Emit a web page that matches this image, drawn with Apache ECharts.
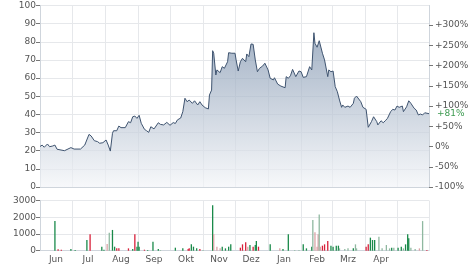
<!DOCTYPE html>
<html><head><meta charset="utf-8">
<script src="https://cdn.jsdelivr.net/npm/echarts@6/dist/echarts.min.js"></script>
<style>html,body{margin:0;padding:0;background:#fff}#c{width:474px;height:269px}</style>
</head><body><div id="c"></div>
<script>
// ---- data ----
const startDate = '2023-06-01';
const endDate = '2024-05-31';
const monthNames = ['Jan','Feb','Mrz','Apr','Mai','Jun','Jul','Aug','Sep','Okt','Nov','Dez'];
const hiddenMonthLabels = ['Mai'];
const basePrice = 22.3;
const priceTicks = [0,10,20,30,40,50,60,70,80,90,100];
const percentTicks = [-100,-50,0,50,100,150,200,250,300];
const volumeTicks = [0,1000,2000,3000];

const priceDates = [
'2023-06-01','2023-06-03','2023-06-05','2023-06-08','2023-06-10','2023-06-13','2023-06-15','2023-06-17','2023-06-24','2023-06-30',
'2023-07-03','2023-07-09','2023-07-13','2023-07-17','2023-07-19','2023-07-22','2023-07-25','2023-07-27','2023-07-30',
'2023-08-02','2023-08-04','2023-08-06','2023-08-08','2023-08-09','2023-08-12','2023-08-14','2023-08-16','2023-08-20','2023-08-23','2023-08-25','2023-08-27','2023-08-29','2023-08-31',
'2023-09-02','2023-09-04','2023-09-07','2023-09-09','2023-09-11','2023-09-13','2023-09-16','2023-09-20','2023-09-22','2023-09-25','2023-09-28',
'2023-10-01','2023-10-04','2023-10-06','2023-10-08','2023-10-11','2023-10-13','2023-10-15','2023-10-17','2023-10-19','2023-10-22','2023-10-24','2023-10-27','2023-10-29','2023-10-31',
'2023-11-03','2023-11-06','2023-11-07','2023-11-09','2023-11-10','2023-11-11','2023-11-13','2023-11-14','2023-11-17','2023-11-19','2023-11-21','2023-11-24','2023-11-25','2023-11-28',
'2023-12-01','2023-12-02','2023-12-04','2023-12-06','2023-12-08','2023-12-11','2023-12-12','2023-12-14','2023-12-16','2023-12-18','2023-12-20','2023-12-22','2023-12-24','2023-12-27','2023-12-29',
'2024-01-01','2024-01-03','2024-01-06','2024-01-07','2024-01-10','2024-01-13','2024-01-17','2024-01-18','2024-01-20','2024-01-22','2024-01-24','2024-01-27','2024-01-30',
'2024-02-01','2024-02-03','2024-02-06','2024-02-09','2024-02-11','2024-02-13','2024-02-14','2024-02-16','2024-02-18','2024-02-19','2024-02-21','2024-02-23','2024-02-26','2024-02-27','2024-02-29',
'2024-03-02','2024-03-04','2024-03-06','2024-03-08','2024-03-10','2024-03-11','2024-03-13','2024-03-16','2024-03-18','2024-03-21','2024-03-22','2024-03-24','2024-03-25','2024-03-28','2024-03-30',
'2024-04-02','2024-04-04','2024-04-07','2024-04-09','2024-04-12','2024-04-13','2024-04-16','2024-04-18','2024-04-20','2024-04-22','2024-04-25','2024-04-27','2024-04-29',
'2024-05-01','2024-05-03','2024-05-06','2024-05-07','2024-05-10','2024-05-12','2024-05-14','2024-05-17','2024-05-19','2024-05-21','2024-05-23','2024-05-25','2024-05-27','2024-05-31'
];
const priceValues = [
22.3,23.1,21.9,23.7,22.2,22.6,23.1,20.8,20.0,21.7,
20.9,20.9,23.1,29.0,28.1,25.5,25.0,24.1,24.4,
25.9,23.1,19.8,29.6,31.0,31.0,33.6,32.7,32.7,36.0,35.4,38.7,39.1,37.8,
39.5,35.1,31.8,31.0,30.1,33.2,32.0,35.4,34.5,34.2,35.6,
34.0,35.5,35.0,37.0,38.0,41.5,48.9,47.0,47.9,46.1,47.5,45.2,47.0,45.2,
43.7,43.0,50.7,53.4,75.1,73.7,61.7,64.5,63.0,66.3,65.4,69.0,74.0,73.7,
73.7,70.0,63.9,69.0,70.9,69.0,73.3,71.8,78.8,78.6,70.0,63.5,65.4,66.7,68.2,
64.5,59.9,59.0,60.2,56.7,55.6,54.7,60.8,59.9,61.3,64.8,60.8,63.9,
63.5,60.4,60.8,66.3,64.5,85.0,79.2,77.0,80.6,81.0,73.7,70.0,60.8,64.5,63.5,
63.9,55.3,52.5,47.9,43.9,45.2,43.9,44.6,43.9,46.1,48.9,50.1,50.7,47.0,43.9,
42.8,32.9,36.0,38.7,36.0,34.2,36.5,35.4,36.5,37.8,41.5,42.8,42.4,
44.6,43.9,44.6,41.5,44.2,47.5,46.1,43.4,42.4,39.7,40.2,39.7,40.9,40.4
];

const volDates = [
'2023-06-15','2023-06-18','2023-06-21','2023-06-30','2023-07-04','2023-07-15','2023-07-18','2023-07-29','2023-07-31',
'2023-08-03','2023-08-05','2023-08-08','2023-08-10','2023-08-12','2023-08-14','2023-08-23','2023-08-27','2023-08-29','2023-08-31',
'2023-09-01','2023-09-02','2023-09-07','2023-09-10','2023-09-15','2023-09-20','2023-09-22',
'2023-10-06','2023-10-13','2023-10-18','2023-10-19','2023-10-21','2023-10-23','2023-10-26','2023-10-29',
'2023-11-01','2023-11-10','2023-11-11','2023-11-14','2023-11-17','2023-11-19','2023-11-22','2023-11-25','2023-11-27',
'2023-12-06','2023-12-08','2023-12-11','2023-12-13','2023-12-15','2023-12-18','2023-12-20','2023-12-21','2023-12-23',
'2024-01-03','2024-01-12','2024-01-15','2024-01-20','2024-01-26','2024-01-30',
'2024-02-03','2024-02-06','2024-02-11','2024-02-12','2024-02-14','2024-02-16','2024-02-17','2024-02-18','2024-02-19','2024-02-21','2024-02-23','2024-02-26','2024-02-29',
'2024-03-02','2024-03-05','2024-03-07','2024-03-08','2024-03-13','2024-03-16','2024-03-21','2024-03-23','2024-03-24',
'2024-04-02','2024-04-04','2024-04-06','2024-04-08','2024-04-10','2024-04-14','2024-04-17','2024-04-21','2024-04-24','2024-04-26','2024-04-28',
'2024-05-02','2024-05-05','2024-05-07','2024-05-09','2024-05-11','2024-05-12','2024-05-14','2024-05-18','2024-05-22','2024-05-25','2024-05-29'
];
const volValues = [
1770,80,60,100,40,640,980,240,60,
400,1080,1240,240,140,140,140,100,980,240,
540,240,60,40,540,100,40,
180,140,100,140,380,240,140,100,
40,2720,980,240,140,240,140,240,380,
180,380,500,240,340,240,340,580,240,
380,140,100,980,40,40,
380,140,240,1830,1100,240,980,2170,240,300,380,580,300,
240,300,300,140,100,140,140,380,140,
240,380,780,640,640,840,140,340,140,180,180,
180,240,140,380,980,740,180,100,140,1770,40
];
// g = up, r = down, p = light down, q = light up
const volKinds = [
'g','r','r','g','g','g','r','g','g',
'p','q','g','g','r','r','r','g','r','g',
'g','g','r','g','g','g','q',
'g','g','r','r','g','g','g','r',
'q','g','p','p','p','g','g','g','g',
'r','r','r','p','g','r','g','g','r',
'g','p','g','g','q','q',
'g','g','g','q','p','p','p','q','p','r','r','r','g',
'g','g','g','q','q','q','g','q','q',
'r','r','g','g','g','q','q','q','q','g','q',
'g','g','q','g','g','g','q','q','p','q','r'
];

// ---- build ----
const kindColors = {g:'#1a8a4a', r:'#d8203a', p:'#dba2a6', q:'#8fb8a0'};
function pad(n){return (n<10?'0':'')+n;}
const categories = [];
(function(){
  const s = new Date(startDate+'T00:00:00Z'), e = new Date(endDate+'T00:00:00Z');
  for (let d = new Date(s); d <= e; d.setUTCDate(d.getUTCDate()+1)) {
    categories.push(d.getUTCFullYear()+'-'+pad(d.getUTCMonth()+1)+'-'+pad(d.getUTCDate()));
  }
})();
const lastIdx = categories.length-1;
const isMonthStart = (i, v) => v.slice(8) === '01' || i === lastIdx;
const isMidMonth = (i, v) => v.slice(8) === '16' && hiddenMonthLabels.indexOf(monthNames[+v.slice(5,7)-1]) < 0;
const monthFmt = v => monthNames[+v.slice(5,7)-1];

const pctMin = -100;
const pctMax = (priceTicks[priceTicks.length-1]/basePrice - 1)*100;
const lastPrice = priceValues[priceValues.length-1];
const lastPct = Math.round((lastPrice/basePrice - 1)*100);

const gridColor = '#e6e8eb';
const axisColor = '#cfd5dc';
const labelColor = '#555';
const font = 'DejaVu Sans';
const fs = 9;

const chart = echarts.init(document.getElementById('c'), null, {renderer:'canvas'});
chart.setOption({
  animation:false,
  backgroundColor:'#fff',
  grid:[
    {left:40, right:45, top:5.5, height:181.5},
    {left:40, right:45, top:200.5, height:50.2}
  ],
  xAxis:[
    {type:'category', gridIndex:0, data:categories, boundaryGap:false,
     axisLine:{show:true, lineStyle:{color:axisColor}}, axisTick:{show:false},
     axisLabel:{show:false},
     splitLine:{show:true, interval:isMonthStart, lineStyle:{color:gridColor}}},
    {type:'category', gridIndex:1, data:categories, boundaryGap:false,
     axisLine:{show:true, lineStyle:{color:axisColor}}, axisTick:{show:false},
     axisLabel:{show:true, interval:isMidMonth, formatter:monthFmt, color:labelColor, fontFamily:font, fontSize:fs, margin:4},
     splitLine:{show:true, interval:isMonthStart, lineStyle:{color:gridColor}}}
  ],
  yAxis:[
    {type:'value', gridIndex:0, min:priceTicks[0], max:priceTicks[priceTicks.length-1], interval:10, position:'left',
     axisLine:{show:true, lineStyle:{color:axisColor}},
     axisTick:{show:true, length:4, lineStyle:{color:'#777'}},
     axisLabel:{color:labelColor, fontFamily:font, fontSize:fs, margin:4},
     splitLine:{show:true, lineStyle:{color:gridColor}}},
    {type:'value', gridIndex:0, min:pctMin, max:pctMax, interval:50, position:'right',
     axisLine:{show:true, lineStyle:{color:axisColor}},
     axisTick:{show:true, length:4, lineStyle:{color:'#777'}},
     axisLabel:{color:labelColor, fontFamily:font, fontSize:fs, margin:6, showMaxLabel:false,
       formatter:v => (Math.abs(v % 50) > 0.01 ? '' : (v>0?'+':'')+v+'%')},
     splitLine:{show:false}},
    {type:'value', gridIndex:1, min:volumeTicks[0], max:volumeTicks[volumeTicks.length-1], interval:1000, position:'left',
     axisLine:{show:true, lineStyle:{color:axisColor}},
     axisTick:{show:true, length:4, lineStyle:{color:'#777'}},
     axisLabel:{color:labelColor, fontFamily:font, fontSize:fs, margin:4, formatter:v => String(v)},
     splitLine:{show:true, lineStyle:{color:gridColor}}}
  ],
  series:[
    {type:'line', xAxisIndex:0, yAxisIndex:0, symbol:'none', smooth:false,
     data:priceDates.map((d,i)=>[d, priceValues[i]]),
     lineStyle:{color:'#3f5470', width:1},
     areaStyle:{color:new echarts.graphic.LinearGradient(0,0,0,1,[
        {offset:0, color:'#7d92ad'},{offset:1, color:'#f3f5f8'}])},
     endLabel:{show:true, formatter:()=> '+'+lastPct+'%', color:'#3c9a50', fontFamily:font, fontSize:fs, distance:8}
    },
    {type:'bar', xAxisIndex:1, yAxisIndex:2, barWidth:1.3,
     data:volDates.map((d,i)=>({value:[d, volValues[i]], itemStyle:{color:kindColors[volKinds[i]]}}))}
  ]
});
</script>
</body></html>
